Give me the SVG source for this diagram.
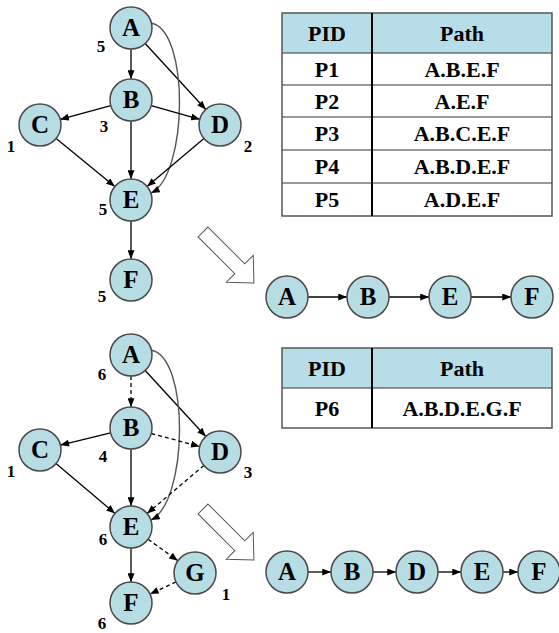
<svg xmlns="http://www.w3.org/2000/svg" width="559" height="633" viewBox="0 0 559 633">
<defs>
<marker id="ah" viewBox="0 0 10 8" refX="10" refY="4" markerWidth="9" markerHeight="7" markerUnits="userSpaceOnUse" orient="auto">
<path d="M0,0 L10,4 L0,8 Z" fill="#000"/>
</marker>
<style>
text{font-family:'Liberation Serif','Times New Roman','DejaVu Serif',serif;font-weight:bold;text-anchor:middle;fill:#000}
.n circle{fill:#b7dde4;stroke:#4a4a4a;stroke-width:1.5}
.n text{font-size:25px}
.lbl{font-size:17px}
.e{fill:none;stroke:#000;stroke-width:1.3;marker-end:url(#ah)}
.d{stroke-dasharray:4,3}
.c{fill:none;stroke:#555;stroke-width:1.4;marker-end:url(#ah)}
.t{font-size:22px}
.hollow{fill:#fff;stroke:#555;stroke-width:1}
.grid{stroke:#333;stroke-width:1}
</style>
</defs>

<!-- connectors -->
<g id="connectors">
<!-- top graph -->
<line class="e" x1="131" y1="49" x2="131" y2="79"/>
<line class="e" x1="145.2" y1="43.5" x2="205.8" y2="109.5"/>
<path class="c" d="M151,23 C190,30 188,175 151,193"/>
<line class="e" x1="110.8" y1="105.6" x2="60.2" y2="119.4"/>
<line class="e" x1="151.2" y1="105.7" x2="199.8" y2="119.3"/>
<line class="e" x1="131" y1="121" x2="131" y2="179"/>
<line class="e" x1="56.2" y1="138.4" x2="114.8" y2="186.6"/>
<line class="e" x1="203.9" y1="138.5" x2="147.1" y2="186.5"/>
<line class="e" x1="131" y1="221" x2="131" y2="259"/>
<!-- top chain -->
<line class="e" x1="308" y1="297" x2="347" y2="297"/>
<line class="e" x1="389" y1="297" x2="429" y2="297"/>
<line class="e" x1="471" y1="297" x2="511" y2="297"/>
<!-- bottom graph -->
<line class="e d" x1="131" y1="376" x2="131" y2="407"/>
<line class="e" x1="145.2" y1="370.5" x2="205.8" y2="436.5"/>
<path class="c" d="M151,350 C190,357 188,502 151,520"/>
<line class="e" x1="110.6" y1="432.9" x2="60.4" y2="445.1"/>
<line class="e d" x1="151.3" y1="433.5" x2="199.7" y2="446.5"/>
<line class="e" x1="131" y1="449" x2="131" y2="506"/>
<line class="e" x1="56" y1="463.6" x2="115" y2="513.4"/>
<line class="e d" x1="203.9" y1="465.5" x2="147.1" y2="513.5"/>
<line class="e d" x1="148.1" y1="539.3" x2="177.9" y2="560.7"/>
<line class="e" x1="131" y1="548" x2="131" y2="582"/>
<line class="e d" x1="176" y1="581.9" x2="150" y2="594.1"/>
<!-- bottom chain -->
<line class="e" x1="308" y1="572" x2="331" y2="572"/>
<line class="e" x1="373" y1="572" x2="396" y2="572"/>
<line class="e" x1="438" y1="572" x2="461" y2="572"/>
<line class="e" x1="503" y1="572" x2="518" y2="572"/>
</g>

<!-- top graph nodes -->
<g id="t-A" class="n"><circle cx="131" cy="28" r="21"/><text x="131" y="36">A</text></g>
<g id="t-B" class="n"><circle cx="131" cy="100" r="21"/><text x="131" y="108">B</text></g>
<g id="t-C" class="n"><circle cx="40" cy="125" r="21"/><text x="40" y="133">C</text></g>
<g id="t-D" class="n"><circle cx="220" cy="125" r="21"/><text x="220" y="133">D</text></g>
<g id="t-E" class="n"><circle cx="131" cy="200" r="21"/><text x="131" y="208">E</text></g>
<g id="t-F" class="n"><circle cx="131" cy="280" r="21"/><text x="131" y="288">F</text></g>
<g id="t-labels">
<text class="lbl" x="101" y="52">5</text>
<text class="lbl" x="104" y="132">3</text>
<text class="lbl" x="11" y="152">1</text>
<text class="lbl" x="248" y="152">2</text>
<text class="lbl" x="103" y="215">5</text>
<text class="lbl" x="102" y="302">5</text>
</g>

<!-- top chain nodes -->
<g id="c1-A" class="n"><circle cx="287" cy="297" r="21"/><text x="287" y="305">A</text></g>
<g id="c1-B" class="n"><circle cx="368" cy="297" r="21"/><text x="368" y="305">B</text></g>
<g id="c1-E" class="n"><circle cx="450" cy="297" r="21"/><text x="450" y="305">E</text></g>
<g id="c1-F" class="n"><circle cx="532" cy="297" r="21"/><text x="532" y="305">F</text></g>

<!-- hollow arrows -->
<g id="arrow1"><polygon class="hollow" transform="translate(203,232) rotate(45)" points="0,-7 52,-7 52,-19 72,0 52,19 52,7 0,7"/></g>
<g id="arrow2"><polygon class="hollow" transform="translate(203,509) rotate(45)" points="0,-7 52,-7 52,-19 72,0 52,19 52,7 0,7"/></g>

<!-- top table -->
<g id="table1">
<rect x="282" y="13" width="270" height="40" fill="#b7dde8"/>
<rect x="282" y="53" width="270" height="163" fill="#fff"/>
<line class="grid" x1="282" y1="53" x2="552" y2="53"/>
<line class="grid" x1="282" y1="85" x2="552" y2="85"/>
<line class="grid" x1="282" y1="117" x2="552" y2="117"/>
<line class="grid" x1="282" y1="150" x2="552" y2="150"/>
<line class="grid" x1="282" y1="183" x2="552" y2="183"/>
<rect x="282" y="13" width="270" height="203" fill="none" stroke="#555" stroke-width="1.5"/>
<line x1="372" y1="13" x2="372" y2="216" stroke="#000" stroke-width="2"/>
<text class="t" x="327" y="41">PID</text>
<text class="t" x="462" y="41">Path</text>
<text class="t" x="327" y="77">P1</text>
<text class="t" x="462" y="77">A.B.E.F</text>
<text class="t" x="327" y="109">P2</text>
<text class="t" x="462" y="109">A.E.F</text>
<text class="t" x="327" y="141">P3</text>
<text class="t" x="462" y="141">A.B.C.E.F</text>
<text class="t" x="327" y="174">P4</text>
<text class="t" x="462" y="174">A.B.D.E.F</text>
<text class="t" x="327" y="207">P5</text>
<text class="t" x="462" y="207">A.D.E.F</text>
</g>

<!-- bottom graph nodes -->
<g id="b-A" class="n"><circle cx="131" cy="355" r="21"/><text x="131" y="363">A</text></g>
<g id="b-B" class="n"><circle cx="131" cy="428" r="21"/><text x="131" y="436">B</text></g>
<g id="b-C" class="n"><circle cx="40" cy="450" r="21"/><text x="40" y="458">C</text></g>
<g id="b-D" class="n"><circle cx="220" cy="452" r="21"/><text x="220" y="460">D</text></g>
<g id="b-E" class="n"><circle cx="131" cy="527" r="21"/><text x="131" y="535">E</text></g>
<g id="b-G" class="n"><circle cx="195" cy="573" r="21"/><text x="195" y="581">G</text></g>
<g id="b-F" class="n"><circle cx="131" cy="603" r="21"/><text x="131" y="611">F</text></g>
<g id="b-labels">
<text class="lbl" x="102" y="380">6</text>
<text class="lbl" x="103" y="462">4</text>
<text class="lbl" x="11" y="477">1</text>
<text class="lbl" x="248" y="478">3</text>
<text class="lbl" x="103" y="545">6</text>
<text class="lbl" x="226" y="600">1</text>
<text class="lbl" x="102" y="629">6</text>
</g>

<!-- bottom table -->
<g id="table2">
<rect x="282" y="348" width="270" height="40" fill="#b7dde8"/>
<rect x="282" y="388" width="270" height="40" fill="#fff"/>
<line class="grid" x1="282" y1="388" x2="552" y2="388"/>
<rect x="282" y="348" width="270" height="80" fill="none" stroke="#555" stroke-width="1.5"/>
<line x1="372" y1="348" x2="372" y2="428" stroke="#000" stroke-width="2"/>
<text class="t" x="327" y="376">PID</text>
<text class="t" x="462" y="376">Path</text>
<text class="t" x="327" y="416">P6</text>
<text class="t" x="462" y="416">A.B.D.E.G.F</text>
</g>

<!-- bottom chain nodes -->
<g id="c2-A" class="n"><circle cx="287" cy="572" r="21"/><text x="287" y="580">A</text></g>
<g id="c2-B" class="n"><circle cx="352" cy="572" r="21"/><text x="352" y="580">B</text></g>
<g id="c2-D" class="n"><circle cx="417" cy="572" r="21"/><text x="417" y="580">D</text></g>
<g id="c2-E" class="n"><circle cx="482" cy="572" r="21"/><text x="482" y="580">E</text></g>
<g id="c2-F" class="n"><circle cx="539" cy="572" r="21"/><text x="539" y="580">F</text></g>
</svg>
